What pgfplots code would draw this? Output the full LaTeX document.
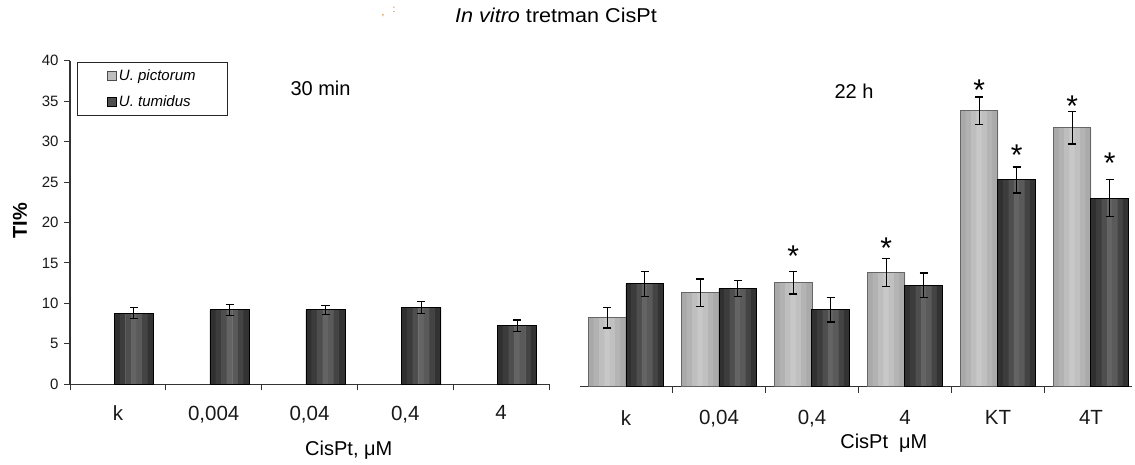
\documentclass[border=0pt]{standalone}
\usepackage{fontspec}
\setmainfont{Liberation Sans}
\usepackage{pgfplots}
\usepackage{pgfplotstable}
\pgfplotsset{compat=1.18}
% stripe colours (cylinder-like bars)
\definecolor{dk0}{HTML}{303030}\definecolor{dk1}{HTML}{3C3C3C}\definecolor{dk2}{HTML}{4E4E4E}
\definecolor{dk3}{HTML}{646464}\definecolor{dk4}{HTML}{5A5A5A}\definecolor{dk5}{HTML}{444444}
\definecolor{dk6}{HTML}{333333}
\definecolor{lt0}{HTML}{A9A9A9}\definecolor{lt1}{HTML}{B2B2B2}\definecolor{lt2}{HTML}{BEBEBE}
\definecolor{lt3}{HTML}{C8C8C8}\definecolor{lt4}{HTML}{C0C0C0}\definecolor{lt5}{HTML}{B4B4B4}
\definecolor{lt6}{HTML}{AAAAAA}

% 30 min, U. tumidus
\pgfplotstableread{
x y e
0.667 8.8 0.7
1.667 9.2 0.7
2.667 9.2 0.55
3.667 9.5 0.7
4.667 7.25 0.7
}\leftTum
% 22 h, U. pictorum
\pgfplotstableread{
x y e
0.2984 8.5 1.25
1.2984 11.6 1.7
2.2984 12.85 1.4
3.2984 14.1 1.7
4.2984 34.1 1.7
5.2984 32.0 2.0
}\rightPic
% 22 h, U. tumidus
\pgfplotstableread{
x y e
0.7016 12.7 1.55
1.7016 12.15 1.0
2.7016 9.5 1.5
3.7016 12.55 1.5
4.7016 25.55 1.6
5.7016 23.3 2.3
}\rightTum

\pgfplotsset{
  panel/.style={
    scale only axis, height=323.6pt, ymin=0, ymax=40, clip=false,
    tick align=outside, major tick length=6pt,
    /pgf/number format/assume math mode=true,
    tick label style={font=\fontsize{15}{18}\selectfont, text=black!90},
    every tick/.style={draw=black!80, line width=1pt},
    axis line style={draw=black!80, line width=1.1pt},
    label style={font=\fontsize{20}{24}\selectfont},
  },
}
% #1 table, #2 stripe width (pt, number), #3 colour prefix, #4 outline colour, #5 full width
\newcommand\stripebars[5]{%
  \pgfplotsinvokeforeach{0,...,6}{%
    \addplot[forget plot, ybar, bar width=#2pt+0.4pt, bar shift={(##1-3)*#2pt}, fill=#3##1, draw=none]
      table[x=x, y=y] {#1};
  }%
  \addplot[forget plot, ybar, bar width=#5pt, bar shift=0pt, fill=none, draw=#4, line width=1pt,
    error bars/.cd, y dir=both, y explicit, error mark=-,
    error bar style={draw=black, line width=1.2pt},
    error mark options={rotate=90, draw=black, line width=1.2pt, mark size=4pt}]
    table[x=x, y=y, y error=e] {#1};
}

\begin{document}
\begin{tikzpicture}
\useasboundingbox (0,0) rectangle (1135pt,465pt);
% title
\node[font=\fontsize{20}{24}\selectfont] at (556pt,450pt) {\scalebox{1.08}[1]{\textit{In vitro} tretman CisPt}};
\node[font=\fontsize{10}{10}\selectfont, text=orange!80!black] at (383pt,449pt) {,};
\node[font=\fontsize{10}{10}\selectfont, text=orange!80!black] at (394pt,455pt) {:};

% ---------- left panel: 30 min ----------
\begin{axis}[panel, at={(70pt,80.7pt)}, anchor=south west, width=479pt,
  xmin=0, xmax=5, axis x line*=bottom, axis y line*=left,
  ytick={0,5,...,40}, yticklabel style={xshift=-2pt},
  xtick={0,1,...,5}, xticklabels={},
  xticklabel style={font=\fontsize{20.5}{24}\selectfont, yshift=-18pt},
  extra x ticks={0.5,1.5,2.5,3.5,4.5},
  extra x tick labels={k,{0,004},{0,04},{0,4},4},
  extra x tick style={major tick length=0pt},
  ylabel={\textbf{TI\%}},
  ylabel style={at={(axis description cs:-0.1044,0.505)}, anchor=center},
  xlabel={CisPt, μM},
  xlabel style={at={(axis description cs:0.582,-0.205)}, anchor=center},
  legend style={at={(axis description cs:0.0146,0.997)}, anchor=north west,
     draw=black!85, line width=0.8pt, font=\fontsize{15}{18}\selectfont\itshape,
     inner xsep=30pt, inner ysep=6pt, row sep=9pt,
     /tikz/every even column/.append style={column sep=5pt}},
  legend cell align=left,
]
\addlegendimage{legend image code/.code={\draw[draw=black!70, line width=0.6pt, fill=lt2] (0pt,-4.5pt) rectangle (9pt,4.5pt);}}
\addlegendentry{U. pictorum}
\addlegendimage{legend image code/.code={\draw[draw=black, line width=0.6pt, fill=dk2] (0pt,-4.5pt) rectangle (9pt,4.5pt);}}
\addlegendentry{U. tumidus}
\stripebars{\leftTum}{5.5714}{dk}{black}{39}
\node[font=\fontsize{20}{24}\selectfont] at (axis description cs:0.523,0.9135) {30 min};
\end{axis}

% ---------- right panel: 22 h ----------
\begin{axis}[panel, at={(579.5pt,78.3pt)}, anchor=south west, width=552.4pt,
  xmin=0, xmax=5.94, axis x line*=bottom, axis y line=none, ytick=\empty,
  xtick={1,...,5}, xticklabels={},
  xticklabel style={font=\fontsize{20.5}{24}\selectfont, yshift=-20pt},
  extra x ticks={0.5,1.5,2.5,3.5,4.5,5.5},
  extra x tick labels={k,{0,04},{0,4},4,KT,4T},
  extra x tick style={major tick length=0pt},
  xlabel={CisPt\ \ μM},
  xlabel style={at={(axis description cs:0.551,-0.175)}, anchor=center},
]
\stripebars{\rightPic}{5.3571}{lt}{black!60}{37.5}
\stripebars{\rightTum}{5.3571}{dk}{black}{37.5}
% significance marks
\addplot[draw=none, mark=none, nodes near coords={*},
  every node near coord/.style={anchor=center, inner sep=0pt, yshift=-6.6pt,
     font=\fontsize{30}{30}\selectfont, text=black}] coordinates {
  (2.2984,17.0) (3.2984,17.9) (4.2984,37.5) (4.7016,29.4) (5.2984,35.5) (5.7016,28.4)
};
\node[font=\fontsize{20}{24}\selectfont] at (axis description cs:0.497,0.914) {22 h};
\end{axis}
\end{tikzpicture}
\end{document}
